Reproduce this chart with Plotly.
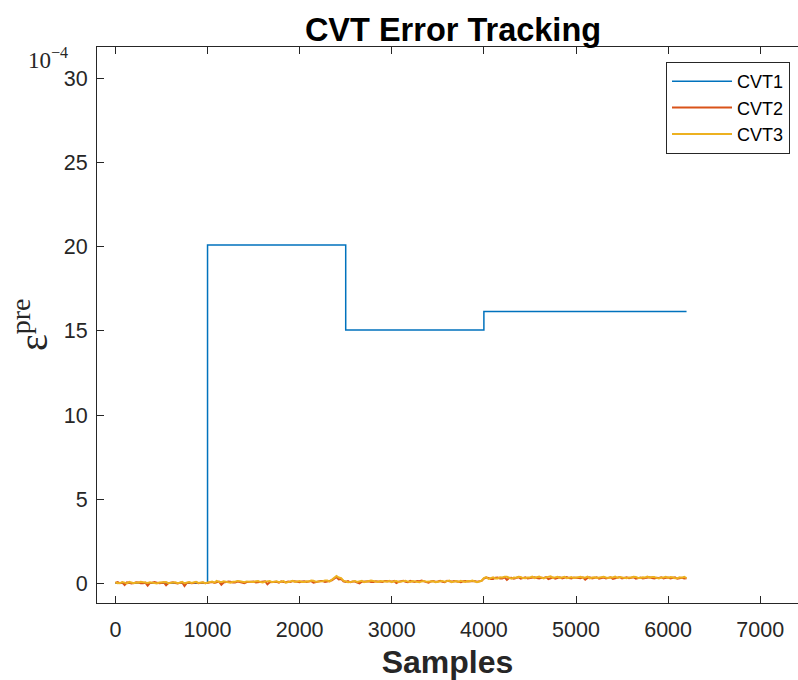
import plotly.graph_objects as go

# ---------------- data (values in units of 1e-4) ----------------
cvt1_samples = [0, 1000, 2500, 4000, 6200]
cvt1_values = [0.02, 20.1, 15.05, 16.15, 16.15]

samples = list(range(0, 6201, 25))

cvt2_values = [
    0.04, 0.09, 0.02, 0.06, -0.08, 0.07, 0.05, 0.01, 0.03, 0.08,
    0.07, 0.02, 0.02, 0.06, -0.12, 0.04, 0.05, 0.09, 0.06, 0.02,
    0.04, 0.07, -0.10, 0.03, 0.06, 0.08, 0.03, 0.01, 0.05, 0.07,
    -0.14, 0.04, 0.07, 0.02, 0.04, 0.08, 0.02, 0.05, 0.06, 0.03,
    0.05, 0.10, 0.10, 0.04, 0.08, 0.12, -0.06, 0.07, 0.09, 0.13,
    0.11, 0.06, 0.07, 0.12, 0.10, 0.05, 0.02, 0.09, 0.09, 0.13,
    0.12, 0.07, 0.08, 0.11, 0.10, 0.14, -0.04, 0.08, 0.09, 0.12,
    0.11, 0.06, 0.13, 0.09, 0.08, 0.12, 0.10, 0.15, 0.12, 0.08,
    0.09, 0.13, 0.14, 0.10, 0.11, 0.15, 0.06, 0.10, 0.13, 0.16,
    0.15, 0.10, 0.12, 0.16, 0.20, 0.30, 0.38, 0.25, 0.28, 0.14,
    0.10, 0.15, 0.08, 0.12, 0.12, 0.07, 0.02, 0.11, 0.11, 0.15,
    0.14, 0.09, 0.09, 0.14, 0.13, 0.08, 0.10, 0.16, 0.15, 0.10,
    0.12, 0.16, 0.04, 0.11, 0.13, 0.17, 0.11, 0.08, 0.16, 0.12,
    0.10, 0.15, 0.14, 0.18, 0.12, 0.09, 0.06, 0.13, 0.15, 0.11,
    0.13, 0.17, 0.11, 0.08, 0.17, 0.13, 0.12, 0.16, 0.14, 0.10,
    0.09, 0.14, 0.16, 0.12, 0.13, 0.17, 0.15, 0.11, 0.12, 0.16,
    0.30, 0.36, 0.34, 0.28, 0.28, 0.35, 0.36, 0.30, 0.31, 0.37,
    0.22, 0.33, 0.35, 0.29, 0.33, 0.38, 0.29, 0.34, 0.37, 0.31,
    0.32, 0.37, 0.38, 0.33, 0.30, 0.35, 0.34, 0.39, 0.27, 0.32,
    0.36, 0.30, 0.33, 0.38, 0.31, 0.35, 0.39, 0.33, 0.30, 0.36,
    0.35, 0.30, 0.32, 0.37, 0.24, 0.34, 0.37, 0.31, 0.33, 0.38,
    0.30, 0.35, 0.36, 0.31, 0.34, 0.38, 0.28, 0.33, 0.35, 0.39,
    0.31, 0.36, 0.37, 0.32, 0.33, 0.38, 0.29, 0.34, 0.36, 0.31,
    0.32, 0.37, 0.38, 0.33, 0.30, 0.35, 0.34, 0.38, 0.31, 0.35,
    0.36, 0.31, 0.33, 0.37, 0.29, 0.34, 0.35, 0.30, 0.32,
]

cvt3_values = [
    0.08, 0.02, 0.03, 0.09, 0.06, 0.01, 0.10, 0.05, 0.02, 0.07,
    0.05, 0.11, 0.09, 0.03, 0.04, 0.08, 0.07, 0.02, 0.01, 0.06,
    0.06, 0.10, 0.09, 0.03, 0.03, 0.07, 0.08, 0.02, 0.05, 0.10,
    0.02, 0.07, 0.10, 0.04, 0.06, 0.11, 0.04, 0.08, 0.08, 0.03,
    0.07, 0.11, 0.12, 0.06, 0.16, 0.10, 0.09, 0.14, 0.13, 0.08,
    0.06, 0.11, 0.11, 0.16, 0.14, 0.09, 0.08, 0.13, 0.12, 0.07,
    0.10, 0.14, 0.15, 0.09, 0.07, 0.12, 0.12, 0.16, 0.09, 0.13,
    0.14, 0.09, 0.11, 0.15, 0.06, 0.10, 0.13, 0.17, 0.10, 0.14,
    0.15, 0.10, 0.09, 0.14, 0.13, 0.18, 0.17, 0.11, 0.11, 0.15,
    0.14, 0.19, 0.18, 0.12, 0.22, 0.33, 0.45, 0.36, 0.33, 0.18,
    0.14, 0.08, 0.09, 0.14, 0.15, 0.10, 0.12, 0.17, 0.08, 0.12,
    0.13, 0.18, 0.16, 0.11, 0.10, 0.15, 0.14, 0.09, 0.11, 0.16,
    0.09, 0.14, 0.15, 0.10, 0.12, 0.17, 0.17, 0.12, 0.10, 0.15,
    0.13, 0.08, 0.08, 0.13, 0.16, 0.11, 0.12, 0.17, 0.14, 0.09,
    0.11, 0.16, 0.16, 0.11, 0.13, 0.18, 0.09, 0.14, 0.15, 0.10,
    0.17, 0.12, 0.10, 0.15, 0.14, 0.18, 0.13, 0.09, 0.13, 0.17,
    0.33, 0.39, 0.28, 0.34, 0.38, 0.31, 0.31, 0.37, 0.36, 0.41,
    0.41, 0.35, 0.30, 0.36, 0.35, 0.40, 0.39, 0.33, 0.32, 0.37,
    0.37, 0.42, 0.33, 0.38, 0.42, 0.36, 0.31, 0.37, 0.38, 0.43,
    0.34, 0.39, 0.40, 0.34, 0.36, 0.41, 0.32, 0.37, 0.39, 0.33,
    0.34, 0.39, 0.40, 0.35, 0.36, 0.42, 0.31, 0.36, 0.38, 0.33,
    0.35, 0.41, 0.41, 0.36, 0.33, 0.38, 0.37, 0.42, 0.34, 0.39,
    0.38, 0.33, 0.32, 0.37, 0.36, 0.41, 0.40, 0.34, 0.33, 0.38,
    0.37, 0.42, 0.35, 0.39, 0.39, 0.34, 0.31, 0.36, 0.36, 0.41,
    0.34, 0.39, 0.38, 0.32, 0.32, 0.37, 0.35, 0.40, 0.33,
]

x_ticks = [0, 1000, 2000, 3000, 4000, 5000, 6000, 7000]
y_ticks = [0, 5, 10, 15, 20, 25, 30]

# ---------------- figure ----------------
AX = "#262626"
fig = go.Figure()
fig.add_trace(go.Scatter(x=cvt1_samples, y=cvt1_values, mode="lines", name="CVT1",
                         line=dict(color="#0072BD", width=1.5, shape="hv")))
fig.add_trace(go.Scatter(x=samples, y=cvt2_values, mode="lines", name="CVT2",
                         line=dict(color="#D95319", width=2)))
fig.add_trace(go.Scatter(x=samples, y=cvt3_values, mode="lines", name="CVT3",
                         line=dict(color="#EDB120", width=2)))

fig.update_layout(
    width=798, height=680,
    margin=dict(l=97, r=0, t=47, b=77),
    paper_bgcolor="white", plot_bgcolor="white",
    font=dict(family="Liberation Sans, Arial, sans-serif", color=AX),
    title=dict(text="<b>CVT Error Tracking</b>", x=453 / 798, xanchor="center",
               y=1 - 30 / 680, yanchor="middle", xref="container", yref="container",
               font=dict(size=32.5, color="black", family="Liberation Sans, Arial, sans-serif")),
    showlegend=True,
    legend=dict(x=0.9886, xanchor="right", y=0.973, yanchor="top",
                bgcolor="white", bordercolor="#262626", borderwidth=1, itemwidth=60,
                font=dict(size=18, color="black"), tracegroupgap=0),
    xaxis=dict(range=[-200, 7410], tickvals=x_ticks, ticks="inside", ticklen=7,
               tickcolor=AX, showline=True, linecolor=AX, linewidth=1, mirror="ticks",
               showgrid=False, zeroline=False, tickfont=dict(size=21.5, color=AX),
               ticklabelstandoff=7,
               title=dict(text="<b>Samples</b>", font=dict(size=32, color=AX), standoff=10)),
    yaxis=dict(range=[-1.15, 31.85], tickvals=y_ticks, ticks="inside", ticklen=7,
               tickcolor=AX, showline=True, linecolor=AX, linewidth=1, mirror=False,
               showgrid=False, zeroline=False, tickfont=dict(size=21.5, color=AX),
               ticklabelstandoff=4),
    annotations=[
        dict(text="ε<sup>pre</sup>", xref="paper", yref="paper",
             x=(30 - 97) / 701, y=(603 - 325) / 556, xanchor="center", yanchor="middle",
             textangle=-90, showarrow=False,
             font=dict(size=40, family="Liberation Serif, Times New Roman, serif", color=AX)),
        dict(text="10<sup>−4</sup>", xref="paper", yref="paper",
             x=(70 - 97) / 701, y=(603 - 59) / 556, xanchor="right", yanchor="middle",
             showarrow=False,
             font=dict(size=23, family="Liberation Serif, Times New Roman, serif", color=AX)),
    ],
)

fig.write_html("out.html")
